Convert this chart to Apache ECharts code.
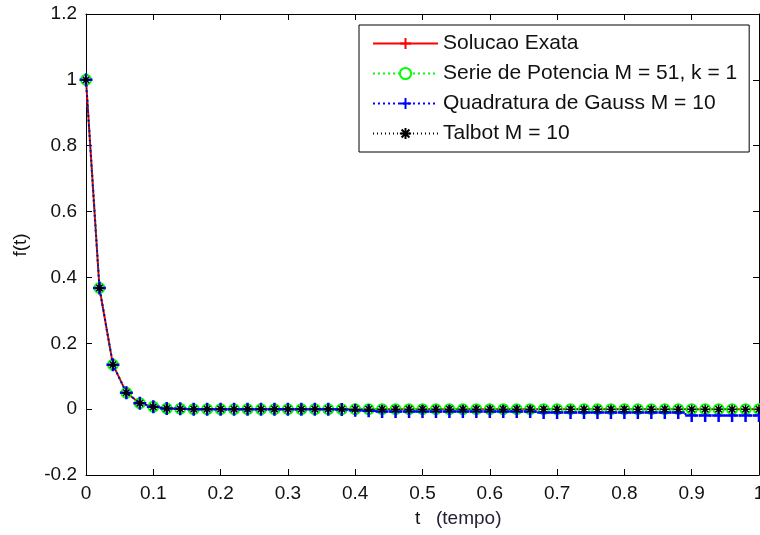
<!DOCTYPE html>
<html>
<head>
<meta charset="utf-8">
<script src="https://cdn.jsdelivr.net/npm/echarts@6/dist/echarts.min.js"></script>
<style>html,body{margin:0;padding:0;background:#fff}#c{width:760px;height:535px}</style>
</head>
<body>
<div id="c"></div>
<script>
var tValues = [0,0.02,0.04,0.06,0.08,0.10,0.12,0.14,0.16,0.18,0.20,0.22,0.24,0.26,0.28,0.30,0.32,0.34,0.36,0.38,0.40,0.42,0.44,0.46,0.48,0.50,0.52,0.54,0.56,0.58,0.60,0.62,0.64,0.66,0.68,0.70,0.72,0.74,0.76,0.78,0.80,0.82,0.84,0.86,0.88,0.90,0.92,0.94,0.96,0.98,1.00];
var exata = [1,0.368,0.135,0.050,0.018,0.007,0.002,0.001,0,0,0,0,0,0,0,0,0,0,0,0,0,0,0,0,0,0,0,0,0,0,0,0,0,0,0,0,0,0,0,0,0,0,0,0,0,0,0,0,0,0,0];
var serie = [1,0.368,0.135,0.050,0.018,0.007,0.002,0.001,0,0,0,0,0,0,0,0,0,0,0,0,0,0,0,0,0,0,0,0,0,0,0,0,0,0,0,0,0,0,0,0,0,0,0,0,0,0,0,0,0,0,0];
var gauss = [1,0.368,0.135,0.050,0.018,0.007,0.002,0.001,0,0,0,0,0,0,0,0,0,0,0,-0.001,-0.003,-0.005,-0.007,-0.007,-0.007,-0.007,-0.007,-0.007,-0.007,-0.007,-0.007,-0.007,-0.007,-0.007,-0.010,-0.010,-0.010,-0.010,-0.010,-0.010,-0.010,-0.010,-0.010,-0.010,-0.010,-0.019,-0.019,-0.019,-0.019,-0.019,-0.019];
var talbot = [1,0.368,0.135,0.050,0.018,0.007,0.002,0.001,0,0,0,0,0,0,0,0,0,0,0,0,0,0,0,0,0,0,0,0,0,0,0,0,0,0,0,0,0,0,0,0,0,0,0,0,0,0,0,0,0,0,0];
var seriesNames = ['Solucao Exata','Serie de Potencia M = 51, k = 1','Quadratura de Gauss M = 10','Talbot M = 10'];
var xTicks = {min:0, max:1, step:0.1};
var yTicks = {min:-0.2, max:1.2, step:0.2};

function pairs(ys){ return tValues.map(function(t,i){ return [t, ys[i]]; }); }

var FONT = '"Liberation Sans", Arial, sans-serif';
var PLUS = 'path://M5,0L5,10M0,5L10,5';
var STAR = 'path://M5,0L5,10M0,5L10,5M1.5,1.5L8.5,8.5M1.5,8.5L8.5,1.5';

function xAx(pos, show){
  return {type:'value', position:pos, min:xTicks.min, max:xTicks.max, interval:xTicks.step,
    axisLine:{show:true, onZero:false, lineStyle:{color:'#000', width:1}},
    axisTick:{show:true, inside:true, length:6, lineStyle:{color:'#000'}},
    axisLabel:{show:show, color:'#111', fontFamily:FONT, fontSize:19, margin:9, hideOverlap:false,
      formatter:function(v){ return String(Math.round(v*10)/10); }},
    splitLine:{show:false}};
}
function yAx(pos, show){
  return {type:'value', position:pos, min:yTicks.min, max:yTicks.max, interval:yTicks.step,
    axisLine:{show:true, onZero:false, lineStyle:{color:'#000', width:1}},
    axisTick:{show:true, inside:true, length:6, lineStyle:{color:'#000'}},
    axisLabel:{show:show, color:'#111', fontFamily:FONT, fontSize:19, margin:9,
      formatter:function(v){ return String(Math.round(v*10)/10); }},
    splitLine:{show:false}};
}

var chart = echarts.init(document.getElementById('c'), null, {renderer:'canvas'});
chart.setOption({
  animation:false,
  backgroundColor:'#fff',
  grid:{left:86, top:14, right:1, bottom:60, containLabel:false, outerBoundsMode:'none'},
  xAxis:[xAx('bottom', true), xAx('top', false)],
  yAxis:[yAx('left', true), yAx('right', false)],
  legend:{
    data:seriesNames, orient:'vertical', left:359, top:25,
    backgroundColor:'#fff', borderColor:'#000', borderWidth:1, borderRadius:0,
    padding:[8,12,8,13], itemWidth:65, itemHeight:14, itemGap:9, itemTextGap:6,
    textStyle:{fontFamily:FONT, fontSize:21, color:'#111', lineHeight:21},
    selectedMode:false
  },
  series:[
    {name:seriesNames[0], type:'line', data:pairs(exata), symbol:PLUS, symbolSize:7,
      lineStyle:{color:'#ff0000', width:2, type:'solid'},
      itemStyle:{color:'#ff0000', borderColor:'#ff0000', borderWidth:1.5},
      emphasis:{disabled:true}, z:2},
    {name:seriesNames[1], type:'line', data:pairs(serie), symbol:'emptyCircle', symbolSize:10,
      lineStyle:{color:'#00ff00', width:2, type:[2,3]},
      itemStyle:{color:'#00ff00', borderColor:'#00ff00', borderWidth:2.5},
      emphasis:{disabled:true}, z:3},
    {name:seriesNames[2], type:'line', data:pairs(gauss), symbol:PLUS, symbolSize:13,
      lineStyle:{color:'#0000ff', width:2, type:[2,3]},
      itemStyle:{color:'#0000ff', borderColor:'#0000ff', borderWidth:2.5},
      emphasis:{disabled:true}, z:4},
    {name:seriesNames[3], type:'line', data:pairs(talbot), symbol:STAR, symbolSize:9,
      lineStyle:{color:'#000', width:1, type:[1,3]},
      itemStyle:{color:'#000', borderColor:'#000', borderWidth:1.5},
      emphasis:{disabled:true}, z:5}
  ],
  graphic:[
    {type:'text', left:415, top:509, style:{text:'t', font:'19px '+FONT, fill:'#111'}},
    {type:'text', left:436, top:509, style:{text:'(tempo)', font:'19px '+FONT, fill:'#223'}},
    {type:'text', x:21, y:245, rotation:Math.PI/2,
      style:{text:'f(t)', font:'19px '+FONT, fill:'#111', align:'center', verticalAlign:'middle'}}
  ]
});
</script>
</body>
</html>
